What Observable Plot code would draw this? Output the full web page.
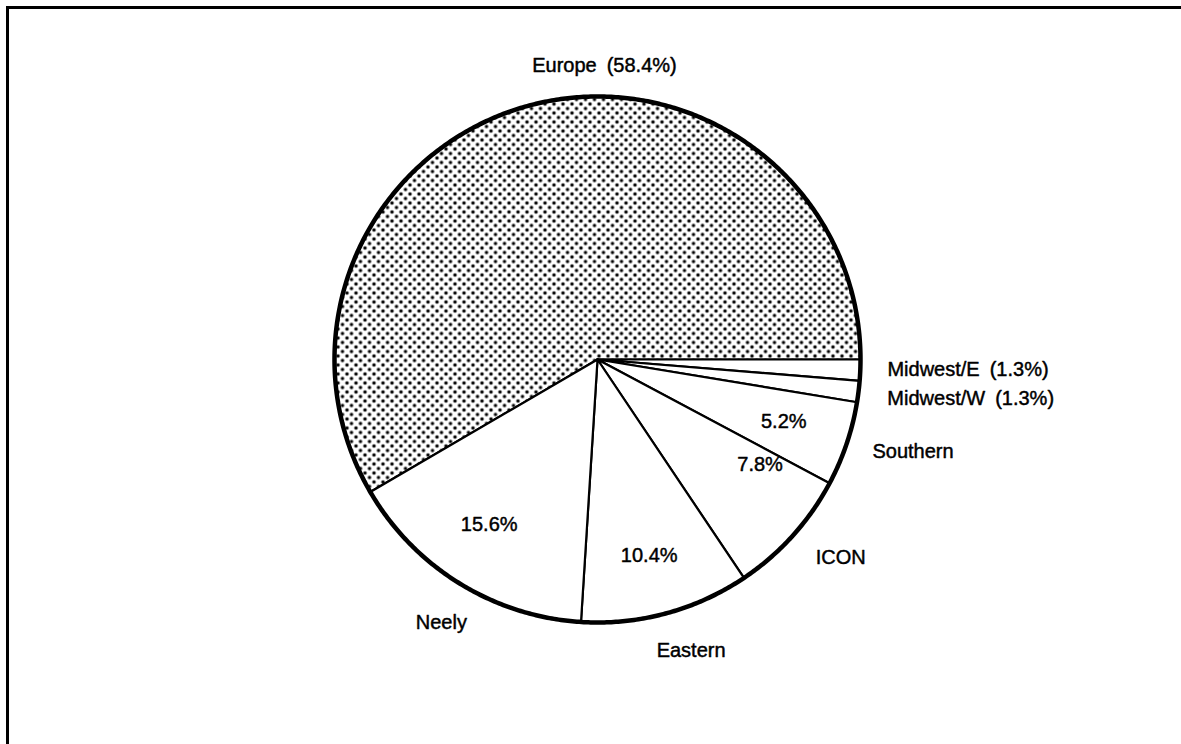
<!DOCTYPE html>
<html><head><meta charset="utf-8">
<script src="https://cdn.jsdelivr.net/npm/d3@7"></script>
<script src="https://cdn.jsdelivr.net/npm/@observablehq/plot@0.6"></script>
<style>
html,body{margin:0;padding:0;background:#fff;}
#wrap{position:relative;width:1181px;height:744px;overflow:hidden;background:#fff;}
#frame{position:absolute;left:6px;top:6px;right:-10px;bottom:-10px;border-top:3px solid #000;border-left:3px solid #000;}
#chart{position:absolute;left:0;top:0;}
</style></head><body>
<div id="wrap"><div id="frame"></div><div id="chart"></div></div>
<script>
// ---- data ----
const names = ["Midwest/E", "Midwest/W", "Southern", "ICON", "Eastern", "Neely", "Europe"];
const shares = [1.3, 1.3, 5.2, 7.8, 10.4, 15.6, 58.4];
const outerLabels = ["Midwest/E\u2002(1.3%)", "Midwest/W\u2002(1.3%)", "Southern", "ICON", "Eastern", "Neely", "Europe\u2002(58.4%)"];
const innerLabels = ["", "", "5.2%", "7.8%", "10.4%", "15.6%", ""];

// ---- layout (label placement: angle in degrees clockwise from 3 o'clock, radius as fraction) ----
const outerPos = [[1.97, 1.103, "start"], [7.63, 1.112, "start"], [18.43, 1.102, "start"], [39.2, 1.193, "middle"], [72.16, 1.162, "middle"], [120.7, 1.163, "middle"], [-88.64, 1.118, "middle"]];
const innerPos = [null, null, [18.3, 0.746], [33.0, 0.737], [75.2, 0.77], [123.3, 0.75], null];

const W = 1181, H = 744, cx = 597, cy = 359, R = 263;
const total = d3.sum(shares);
let cum = 0;
const slices = names.map((n, i) => {
  const a0 = cum / total * 360; cum += shares[i];
  const a1 = cum / total * 360;
  return {name: n, a0, a1};
});
const pt = (deg, rad) => ({x: rad * Math.cos(deg * Math.PI / 180), y: -rad * Math.sin(deg * Math.PI / 180)});
const poly = slices.flatMap(s => {
  const n = Math.max(2, Math.ceil((s.a1 - s.a0) / 0.5));
  const pts = [pt(0, 0)];
  for (let k = 0; k <= n; k++) pts.push(pt(s.a0 + (s.a1 - s.a0) * k / n, 1));
  pts.push(pt(0, 0));
  return pts.map(p => ({...p, name: s.name}));
});
const circle = d3.range(0, 721).map(k => pt(k * 0.5, 1));

const outer = outerLabels.map((t, i) => {const [a, r, anchor] = outerPos[i]; return {...pt(a, r), text: t, anchor};});
const inner = innerLabels.map((t, i) => innerPos[i] ? {...pt(innerPos[i][0], innerPos[i][1]), text: t} : null).filter(d => d);

const defs = () => {
  const d = d3.create("svg:defs");
  const s = 9;
  const p = d.append("pattern").attr("id", "dots").attr("patternUnits", "userSpaceOnUse").attr("width", s).attr("height", s);
  p.append("rect").attr("width", s).attr("height", s).attr("fill", "#fff");
  for (const [a, b] of [[0, 0], [s, 0], [0, s], [s, s], [s / 2, s / 2]])
    p.append("circle").attr("cx", a).attr("cy", b).attr("r", 1.75).attr("fill", "#000");
  return d.node();
};

const font = {fontFamily: "Liberation Sans, Arial, Helvetica, sans-serif", fontSize: 20, fill: "#000", stroke: "#000", strokeWidth: 0.45};

const chart = Plot.plot({
  width: W, height: H,
  marginLeft: cx - R, marginRight: W - (cx + R),
  marginTop: cy - R, marginBottom: H - (cy + R),
  x: {domain: [-1, 1], axis: null},
  y: {domain: [-1, 1], axis: null},
  style: {background: "transparent", overflow: "visible"},
  marks: [
    defs,
    Plot.line(poly.filter(d => d.name === "Europe"), {x: "x", y: "y", z: "name", fill: "url(#dots)", stroke: "#000", strokeWidth: 2.2, strokeLinejoin: "round"}),
    Plot.line(poly.filter(d => d.name !== "Europe"), {x: "x", y: "y", z: "name", fill: "#fff", stroke: "#000", strokeWidth: 2.2, strokeLinejoin: "round"}),
    Plot.line(circle, {x: "x", y: "y", stroke: "#000", strokeWidth: 4.5}),
    Plot.text(outer.filter(d => d.anchor === "start"), {x: "x", y: "y", text: "text", textAnchor: "start", ...font}),
    Plot.text(outer.filter(d => d.anchor === "middle"), {x: "x", y: "y", text: "text", textAnchor: "middle", ...font}),
    Plot.text(inner, {x: "x", y: "y", text: "text", textAnchor: "middle", ...font})
  ]
});
document.getElementById("chart").appendChild(chart);
</script></body></html>
